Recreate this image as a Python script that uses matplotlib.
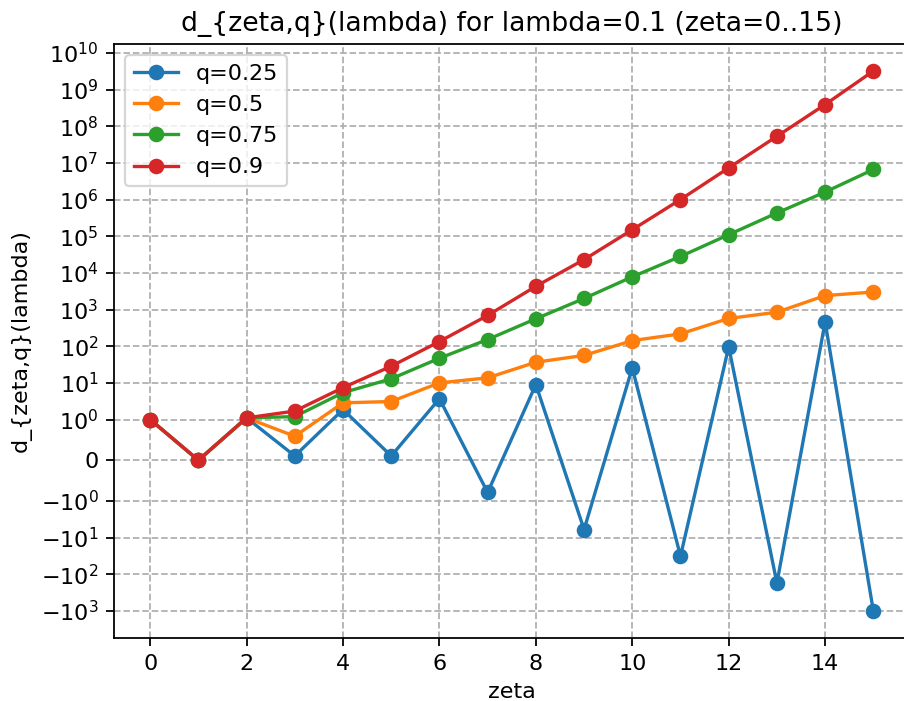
import numpy as np
import matplotlib.pyplot as plt

# valores (escala symlog)
zeta = np.arange(16)
q_labels = ['q=0.25', 'q=0.5', 'q=0.75', 'q=0.9']

d_025 = [1.0, 0.0, 1.11, 0.106, 1.87, 0.106, 3.7, -0.79, 9.0, -6.0, 25.7, -32, 96, -173, 460, -1000]
d_05 = [1.0, 0.0, 1.11, 0.59, 2.85, 3.1, 10.0, 13.7, 36.6, 56, 142, 217, 570, 845, 2400, 3000]
d_075 = [1.0, 0.0, 1.11, 1.2, 5.4, 12.9, 47, 152, 560, 2.0e3, 7.8e3, 2.8e4, 1.1e5, 4.3e5, 1.6e6, 6.6e6]
d_09 = [1.0, 0.0, 1.11, 1.7, 7.4, 28.4, 134, 690, 4.3e3, 2.3e4, 1.5e5, 1.0e6, 7.3e6, 5.3e7, 3.9e8, 3.2e9]

series = [d_025, d_05, d_075, d_09]
yticks = [-1e3, -1e2, -1e1, -1, 0, 1, 1e1, 1e2, 1e3, 1e4, 1e5, 1e6, 1e7, 1e8, 1e9, 1e10]

dpi = 160
fig = plt.figure(figsize=(904 / dpi, 701 / dpi), dpi=dpi)
ax = fig.add_axes([114 / 904, 63 / 701, (909.5 - 114) / 904, (638 - 44) / 701])

for vals, lab in zip(series, q_labels):
    ax.plot(zeta, vals, marker='o', label=lab)

ax.set_yscale('symlog', linthresh=1)
ax.set_yticks(yticks)
ax.set_xlabel('zeta')
ax.set_ylabel('d_{zeta,q}(lambda)')
ax.set_title('d_{zeta,q}(lambda) for lambda=0.1 (zeta=0..15)')
ax.grid(True, linestyle='--')
ax.legend(loc='upper left')

fig.savefig('out.png', dpi=dpi)
